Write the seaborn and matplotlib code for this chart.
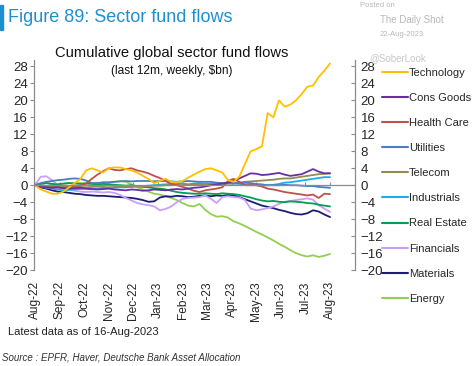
"""
Sector fund flows chart (cumulative weekly flows, last 12m).
"""

import numpy as np
import pandas as pd
import matplotlib
matplotlib.use("Agg")
import matplotlib.pyplot as plt
import seaborn as sns

# ── Data ─────────────────────────────────────────────────────────────────────

month_labels = ["Aug-22", "Sep-22", "Oct-22", "Nov-22", "Dec-22", "Jan-23", "Feb-23",
                "Mar-23", "Apr-23", "May-23", "Jun-23", "Jul-23", "Aug-23"]

technology = [0, -1, -1.5, -2, -2, -1.5, -0.5, 0.5, 1.5, 3.5, 4, 3.5, 3, 4, 4.2, 4.2, 3.8,
              3.5, 3, 2.2, 1.5, 0.5, 1, 1.5, 0.8, 0.7, 1, 1.8, 2.5, 3.2, 3.8, 4, 3.5, 3,
              1.2, 0.8, 2, 5, 8, 8.5, 9.2, 17, 16, 20, 18.5, 19, 20, 21.5, 23.2, 23.5,
              25.5, 27, 28.7]
cons_goods = [0, -0.3, -0.5, -0.6, -0.5, -0.7, -0.8, -0.7, -0.6, -0.8, -0.9, -1, -0.9, -0.8,
              -1, -1.1, -1.2, -1, -1.1, -1.3, -1.2, -1, -1.1, -1.2, -1, -0.9, -1, -0.8, -0.6,
              -0.5, -0.3, 0, 0.2, 0.4, 0.6, 1, 1.6, 2.2, 2.8, 2.7, 2.4, 2.5, 2.7, 2.9, 2.5,
              2.2, 2.4, 2.6, 3.2, 3.8, 3.2, 2.8, 2.8]
health_care = [0, -0.3, -0.5, -0.4, -0.5, -0.6, -0.4, -0.3, -0.1, 0.4, 1.5, 2.5, 3.3, 4,
               3.6, 3.5, 3.8, 4, 3.5, 3.2, 2.8, 2.2, 1.7, 1, 0.3, 0, -0.4, -0.8, -1.3, -1.6,
               -1.2, -1, -0.8, -0.5, 1, 1.5, 0.8, 0, 0, 0, -0.3, -0.8, -1, -1.3, -1.6, -1.8,
               -2, -2.2, -2.4, -2.2, -3, -2, -2.1]
utilities = [0, 0.5, 0.8, 1, 1.2, 1.3, 1.5, 1.6, 1.5, 1.1, 0.5, 0.5, 0.7, 0.7, 0.8, 0.9, 1,
             0.9, 1, 1, 1, 0.9, 1, 1, 0.9, 0.8, 0.9, 1, 0.9, 0.8, 0.8, 0.8, 0.6, 0.5, 0.6,
             0.5, 0.5, 0.6, 0.5, 0.3, 0.2, 0, 0, 0, 0.1, 0, 0, -0.1, -0.2, -0.2, -0.4, -0.5,
             -0.6]
telecom = [0, -0.2, -0.3, -0.4, -0.3, -0.4, -0.5, -0.4, -0.4, -0.5, -0.4, -0.3, -0.4, -0.5,
           -0.4, -0.3, -0.4, -0.3, -0.2, -0.3, -0.2, -0.1, -0.1, 0, 0, 0.1, 0, 0.1, 0.2, 0.2,
           0.3, 0.2, 0.3, 0.4, 0.4, 0.4, 0.6, 0.8, 0.9, 1, 1.1, 1.2, 1.3, 1.5, 1.6, 1.6,
           1.8, 2, 2.2, 2.4, 2.6, 2.7, 2.8]
industrials = [0, -0.3, -0.6, -0.8, -1, -1.2, -1.1, -1, -0.9, -0.8, -0.9, -0.8, -0.7, -0.6,
               -0.6, -0.5, -0.5, -0.4, -0.3, -0.2, -0.1, 0, 0.1, 0.2, 0.3, 0.3, 0.4, 0.2, 0.4,
               0.5, 0.3, 0.4, 0.3, 0.2, 0.4, 0.4, 0.3, 0.2, 0.1, 0, -0.1, 0, 0.1, 0.3, 0.6,
               0.7, 0.9, 1.1, 1.3, 1.5, 1.7, 1.9, 1.9]
real_estate = [0, 0.3, 0.5, 0.3, 0.2, 0.4, 0.5, 0.4, 0.3, 0.4, 0.3, 0.2, 0.3, 0.2, 0.1, 0,
               -0.1, 0, -0.2, -0.4, -0.5, -0.7, -0.8, -1, -1.3, -1.6, -1.8, -1.9, -2, -2,
               -1.9, -2, -2.1, -1.9, -2, -2.1, -2.3, -2.6, -2.9, -3.3, -3.6, -3.8, -3.7,
               -3.9, -4, -3.8, -3.9, -4, -4.2, -4.3, -4.6, -4.8, -5]
financials = [0, 2, 2.1, 1.2, 0, -0.8, -1, -1.3, -1.5, -1.6, -1.5, -1.6, -1.7, -1.6, -1.8,
              -2.3, -3, -3.6, -4.2, -4.5, -4.7, -5, -5.9, -5.6, -5, -4, -3.2, -3, -2.9, -2.8,
              -2.4, -3.2, -4.2, -2.8, -2.6, -2.8, -2.9, -3.5, -5.5, -5.9, -5.7, -5.4, -5,
              -4.4, -3.9, -3.7, -3.5, -3.3, -3.1, -3.4, -4.7, -5.5, -6.3]
materials = [0, -0.5, -0.8, -1.2, -1.5, -1.6, -1.8, -2, -2.1, -2.3, -2.4, -2.5, -2.5, -2.6,
             -2.7, -2.8, -2.9, -3, -3.2, -3.5, -3.9, -3.8, -2.9, -2.6, -2.7, -2.5, -2.6,
             -2.8, -2.7, -2.5, -2.4, -2.6, -2.4, -2.5, -2.3, -2.4, -2.8, -3.3, -3.8, -4.3,
             -4.8, -5.1, -5.4, -5.8, -6.1, -6.5, -6.8, -6.9, -6.6, -5.9, -6.2, -6.9, -7.5]
energy = [0, 0.3, 0.5, 0.3, 0.2, 0.3, 0.5, 0.5, 0.5, 0.4, 0.5, 0.6, 0.5, 0.6, 0.8, 1, 0.8,
          0.2, -0.5, -1, -1.5, -2, -2.2, -2.6, -3, -3.5, -4.2, -4.8, -5, -4.4, -5.8, -6.8,
          -7.4, -7.3, -7.6, -8.5, -9, -9.6, -10.3, -11, -11.6, -12.3, -13, -13.8, -14.5,
          -15.3, -16, -16.5, -16.8, -16.5, -16.9, -16.6, -16.2]

sectors = ["Technology", "Cons Goods", "Health Care", "Utilities", "Telecom",
           "Industrials", "Real Estate", "Financials", "Materials", "Energy"]
series = [technology, cons_goods, health_care, utilities, telecom,
          industrials, real_estate, financials, materials, energy]
colors = ["#FFC000", "#6A2FA0", "#C0504D", "#4A7EC0", "#948A54",
          "#16B0EE", "#00A050", "#C9A0FA", "#1C1C74", "#92D050"]

y_ticks = list(range(28, -21, -4))

# ── Build frame ──────────────────────────────────────────────────────────────

frames = []
for name, vals in zip(sectors, series):
    frames.append(pd.DataFrame({"week": np.arange(len(vals)), "flow": vals, "sector": name}))
df = pd.concat(frames, ignore_index=True)
n_weeks = len(technology) - 1

# ── Plot ─────────────────────────────────────────────────────────────────────

sns.set_style("white")
plt.rcParams["font.family"] = ["Liberation Sans", "DejaVu Sans"]

fig = plt.figure(figsize=(4.75, 3.66), dpi=100)
ax = fig.add_axes([0.0716, 0.262, 0.6758, 0.574])

palette = dict(zip(sectors, colors))
# draw energy first so the others sit on top, as in the original
sns.lineplot(data=df, x="week", y="flow", hue="sector", hue_order=sectors[::-1],
             palette=palette, linewidth=1.3, ax=ax, legend=False)

ax.set_xlim(-0.18, 56.4)
ax.set_ylim(-20, 29.5)
ax.set_xlabel("")
ax.set_ylabel("")

grey = "#8c8c8c"
for s in ["top", "right"]:
    ax.spines[s].set_visible(False)
ax.spines["left"].set_color(grey)
ax.spines["left"].set_linewidth(0.9)
ax.spines["bottom"].set_position(("data", 0))
ax.spines["bottom"].set_color(grey)
ax.spines["bottom"].set_linewidth(0.9)

ax.set_yticks(y_ticks)
ax.tick_params(axis="y", direction="out", length=3, color=grey, labelsize=9.5,
               pad=1.5, left=True)

x_pos = np.linspace(0, n_weeks, len(month_labels))
ax.set_xticks(x_pos)
ax.set_xticklabels([])
ax.tick_params(axis="x", direction="in", length=2.5, color=grey, bottom=True)

# month labels below the plot
sec = ax.secondary_xaxis("bottom")
sec.set_xticks(x_pos)
sec.set_xticklabels(month_labels, rotation=90, fontsize=8.6)
sec.tick_params(length=0, pad=8)
sec.spines["bottom"].set_visible(False)

# right-hand axis mirrors the left
ax2 = ax.twinx()
ax2.set_ylim(ax.get_ylim())
ax2.set_yticks(y_ticks)
for s in ["top", "left", "bottom"]:
    ax2.spines[s].set_visible(False)
ax2.spines["right"].set_color(grey)
ax2.spines["right"].set_linewidth(0.9)
ax2.tick_params(axis="y", direction="in", length=3, color=grey, labelsize=9.5,
                pad=4, right=True)

# legend
handles = [plt.Line2D([], [], color=c, linewidth=1.5) for c in colors]
fig.legend(handles, sectors, loc="upper left", bbox_to_anchor=(0.795, 0.827),
           frameon=False, fontsize=8, handlelength=2.3, handletextpad=0.1,
           labelspacing=1.36, borderaxespad=0)

# ── Text ─────────────────────────────────────────────────────────────────────

fig.patches.append(plt.Rectangle((0, 0.918), 0.007, 0.068, transform=fig.transFigure,
                                 color="#1E8FD0"))
fig.text(0.017, 0.952, "Figure 89: Sector fund flows", fontsize=13, color="#1E8FD0",
         va="center")
fig.text(0.362, 0.855, "Cumulative global sector fund flows", fontsize=10.6, ha="center",
         va="center", color="#111111")
fig.text(0.362, 0.805, "(last 12m, weekly, $bn)", fontsize=8.6, ha="center", va="center",
         color="#111111")
fig.text(0.017, 0.093, "Latest data as of 16-Aug-2023", fontsize=8, color="#222222",
         va="center")
fig.text(0.004, 0.023, "Source : EPFR, Haver, Deutsche Bank Asset Allocation", fontsize=7,
         style="italic", color="#333333", va="center")

wm = "#b8b8b8"
fig.text(0.758, 0.985, "Posted on", fontsize=5.5, color=wm, va="center")
fig.text(0.80, 0.945, "The Daily Shot", fontsize=7, color=wm, va="center")
fig.text(0.80, 0.905, "22-Aug-2023", fontsize=5.5, color=wm, va="center")
fig.text(0.778, 0.84, "@SoberLook", fontsize=7, color="#c8c8c8", va="center")

fig.savefig("out.png", dpi=100)
plt.close(fig)
